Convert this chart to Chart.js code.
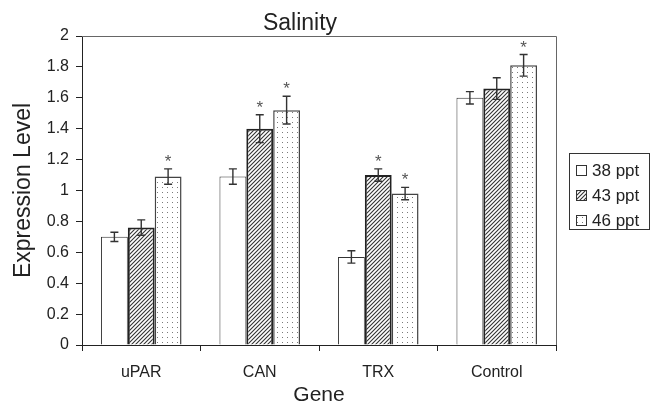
<!DOCTYPE html>
<html>
<head>
<meta charset="utf-8">
<script src="https://cdn.jsdelivr.net/npm/chart.js@4"></script>
<style>
  body { margin: 0; background: #fff; }
</style>
</head>
<body>
<canvas id="myChart" width="656" height="406"></canvas>
<script>
var genes = ["uPAR", "CAN", "TRX", "Control"];
var seriesNames = ["38 ppt", "43 ppt", "46 ppt"];
var ppt38 = [0.70, 1.09, 0.57, 1.60];
var ppt43 = [0.76, 1.40, 1.10, 1.66];
var ppt46 = [1.09, 1.52, 0.98, 1.81];
var err38 = [0.03, 0.05, 0.04, 0.04];
var err43 = [0.05, 0.09, 0.04, 0.07];
var err46 = [0.05, 0.09, 0.04, 0.07];
// significance marks (asterisks)
var star38 = [false, false, false, false];
var star43 = [false, true, true, false];
var star46 = [true, true, true, true];
var yTickLabels = ["0", "0.2", "0.4", "0.6", "0.8", "1", "1.2", "1.4", "1.6", "1.8", "2"];

var font = "'Liberation Sans', Arial, sans-serif";
var ink = "#222";

function makePattern(kind) {
  var c = document.createElement("canvas");
  var ctx = c.getContext("2d");
  if (kind === "hatch") {
    c.width = 4; c.height = 4;
    ctx.fillStyle = "#fff";
    ctx.fillRect(0, 0, 4, 4);
    ctx.strokeStyle = "#333";
    ctx.lineWidth = 1.1;
    ctx.beginPath();
    ctx.moveTo(-1, 5); ctx.lineTo(5, -1);
    ctx.moveTo(-1, 1); ctx.lineTo(1, -1);
    ctx.moveTo(3, 5); ctx.lineTo(5, 3);
    ctx.stroke();
  } else {
    c.width = 5; c.height = 5;
    ctx.fillStyle = "#fff";
    ctx.fillRect(0, 0, 5, 5);
    ctx.fillStyle = "#7a7a7a";
    ctx.fillRect(2, 2, 1, 1);
  }
  return ctx.createPattern(c, "repeat");
}

var hatch = makePattern("hatch");
var dots = makePattern("dots");

var errors = [err38, err43, err46];
var stars = [star38, star43, star46];

var errorBars = {
  id: "errorBars",
  afterDatasetsDraw: function(chart) {
    var ctx = chart.ctx;
    var y = chart.scales.y;
    ctx.save();
    chart.data.datasets.forEach(function(ds, i) {
      var meta = chart.getDatasetMeta(i);
      meta.data.forEach(function(bar, j) {
        var v = ds.data[j];
        var e = errors[i][j];
        var yTop = y.getPixelForValue(v + e);
        var yBot = y.getPixelForValue(v - e);
        ctx.strokeStyle = "#333";
        ctx.lineWidth = 1.4;
        ctx.beginPath();
        ctx.moveTo(bar.x, yTop); ctx.lineTo(bar.x, yBot);
        ctx.moveTo(bar.x - 4, yTop); ctx.lineTo(bar.x + 4, yTop);
        ctx.moveTo(bar.x - 4, yBot); ctx.lineTo(bar.x + 4, yBot);
        ctx.stroke();
        if (stars[i][j]) {
          ctx.fillStyle = "#555";
          ctx.font = "17px " + font;
          ctx.textAlign = "center";
          ctx.textBaseline = "alphabetic";
          ctx.fillText("*", bar.x, yTop - 2);
        }
      });
    });
    ctx.restore();
  }
};

// frame on top/right of the plot and the boxed legend
var frameAndLegend = {
  id: "frameAndLegend",
  afterDraw: function(chart) {
    var ctx = chart.ctx;
    var a = chart.chartArea;
    ctx.save();
    ctx.strokeStyle = "#666";
    ctx.lineWidth = 1;
    ctx.beginPath();
    ctx.moveTo(a.left, a.top + 0.5); ctx.lineTo(a.right + 0.5, a.top + 0.5);
    ctx.lineTo(a.right + 0.5, a.bottom);
    ctx.stroke();

    var lx = Math.round(a.right) + 13, ly = 153, lw = 80, lh = 76;
    ctx.strokeStyle = "#333";
    ctx.strokeRect(lx + 0.5, ly + 0.5, lw, lh);
    ctx.font = "17px " + font;
    ctx.textAlign = "left";
    ctx.textBaseline = "middle";
    chart.data.datasets.forEach(function(ds, i) {
      var cy = ly + 17 + i * 25;
      ctx.fillStyle = ds.backgroundColor;
      ctx.fillRect(lx + 7, cy - 5, 10, 10);
      ctx.strokeStyle = "#333";
      ctx.lineWidth = 1;
      ctx.strokeRect(lx + 7.5, cy - 4.5, 10, 10);
      ctx.fillStyle = ink;
      ctx.fillText(ds.label, lx + 23, cy + 1);
    });
    ctx.restore();
  }
};

new Chart("myChart", {
  type: "bar",
  data: {
    labels: genes,
    datasets: [{
      label: seriesNames[0],
      data: ppt38,
      backgroundColor: "#fff",
      borderColor: "#333",
      borderWidth: 1
    }, {
      label: seriesNames[1],
      data: ppt43,
      backgroundColor: hatch,
      borderColor: "#222",
      borderWidth: 2
    }, {
      label: seriesNames[2],
      data: ppt46,
      backgroundColor: dots,
      borderColor: "#444",
      borderWidth: 1.5
    }]
  },
  options: {
    responsive: false,
    animation: false,
    layout: {padding: {left: 44, right: 100, top: 0, bottom: 0}},
    datasets: {bar: {categoryPercentage: 0.68, barPercentage: 1}},
    plugins: {
      tooltip: {enabled: false},
      legend: {display: false},
      title: {
        display: true,
        text: "Salinity",
        color: ink,
        font: {family: font, size: 23, weight: "normal", lineHeight: 1},
        padding: {top: 12, bottom: 1}
      }
    },
    scales: {
      x: {
        afterFit: function(s) { s.height = 61; },
        grid: {display: true, drawOnChartArea: false, offset: true, color: "#222", tickLength: 6},
        border: {color: "#222", width: 1},
        ticks: {color: ink, font: {family: font, size: 16}, padding: 12},
        title: {display: true, text: "Gene", color: ink, font: {family: font, size: 21, lineHeight: 1}, padding: {top: 0, bottom: 0}}
      },
      y: {
        min: 0,
        max: 2,
        afterFit: function(s) { s.width = 38; },
        grid: {display: true, drawOnChartArea: false, color: "#222", tickLength: 6},
        border: {color: "#222", width: 1},
        ticks: {
          stepSize: 0.2,
          color: ink,
          font: {family: font, size: 16},
          padding: 7,
          callback: function(v, idx) { return yTickLabels[idx]; }
        },
        title: {display: true, text: "Expression Level", color: ink, font: {family: font, size: 23, lineHeight: 1}, padding: {top: -31.5, bottom: 0}}
      }
    }
  },
  plugins: [errorBars, frameAndLegend]
});
</script>
</body>
</html>
